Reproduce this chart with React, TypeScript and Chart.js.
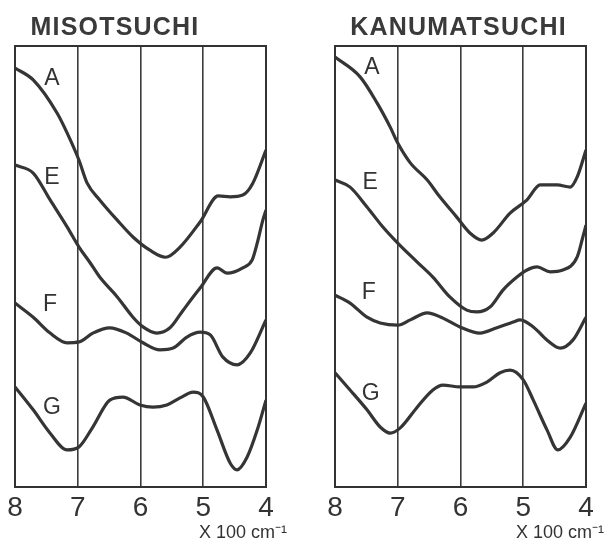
import React, { useEffect, useRef } from "react";
import { Chart, registerables } from "chart.js";

Chart.register(...registerables);

// x: wavenumber (x100 cm-1), y: relative transmittance (arbitrary units)
const tickValues = [8, 7, 6, 5, 4];
const curveNames = ["A", "E", "F", "G"];

const misoA = [[8.0, 95.0], [7.71, 92.3], [7.33, 84.8], [7.17, 80.3], [6.98, 74.1], [6.85, 68.9], [6.65, 65.1], [6.37, 60.5], [6.12, 56.7], [5.85, 53.7], [5.6, 52.1], [5.37, 54.4], [5.05, 60.1], [4.76, 66.0], [4.57, 65.8], [4.37, 66.2], [4.21, 68.9], [4.0, 76.4]];
const misoE = [[8.0, 73.0], [7.71, 71.2], [7.44, 65.1], [7.17, 59.0], [6.98, 54.4], [6.8, 50.8], [6.65, 47.6], [6.37, 43.1], [6.12, 38.5], [5.96, 36.3], [5.74, 34.9], [5.53, 36.1], [5.32, 40.1], [5.05, 45.1], [4.78, 49.7], [4.62, 48.5], [4.37, 49.7], [4.22, 51.5], [4.14, 55.3], [4.05, 60.5], [4.0, 62.8]];
const misoF = [[8.0, 41.7], [7.71, 38.5], [7.44, 34.9], [7.17, 32.7], [6.98, 32.9], [6.76, 34.9], [6.49, 36.1], [6.22, 34.9], [5.96, 32.7], [5.69, 31.1], [5.48, 31.5], [5.26, 34.0], [5.05, 35.1], [4.89, 34.5], [4.69, 29.5], [4.46, 27.7], [4.25, 30.4], [4.0, 37.9]];
const misoG = [[8.0, 22.7], [7.71, 17.5], [7.44, 12.2], [7.17, 8.4], [6.98, 9.1], [6.76, 13.6], [6.49, 19.7], [6.28, 20.4], [6.01, 18.6], [5.8, 18.1], [5.58, 18.6], [5.37, 20.2], [5.16, 21.5], [5.0, 20.4], [4.78, 12.9], [4.57, 5.4], [4.46, 3.9], [4.3, 6.8], [4.14, 12.9], [4.0, 19.7]];

const kanuA = [[8.0, 97.5], [7.6, 93.0], [7.33, 87.1], [7.12, 81.6], [7.0, 78.0], [6.8, 73.5], [6.53, 69.6], [6.33, 65.8], [6.06, 61.2], [5.85, 57.6], [5.66, 56.0], [5.48, 57.6], [5.21, 62.1], [4.94, 65.1], [4.73, 68.5], [4.46, 68.5], [4.25, 68.0], [4.14, 70.3], [4.0, 76.4]];
const kanuE = [[8.0, 69.6], [7.76, 68.0], [7.49, 63.5], [7.24, 59.0], [7.0, 55.3], [6.69, 51.0], [6.44, 47.6], [6.17, 43.1], [5.9, 40.1], [5.74, 39.7], [5.53, 40.8], [5.32, 44.7], [5.1, 47.6], [4.94, 49.2], [4.78, 49.9], [4.57, 48.8], [4.37, 49.2], [4.14, 52.2], [4.05, 56.7], [4.0, 59.4]];
const kanuF = [[8.0, 43.5], [7.76, 41.7], [7.49, 38.5], [7.28, 37.2], [7.0, 36.7], [6.8, 37.9], [6.53, 39.5], [6.28, 38.3], [6.01, 36.3], [5.69, 34.9], [5.42, 36.1], [5.16, 37.4], [5.05, 37.9], [4.84, 36.3], [4.62, 33.3], [4.41, 31.5], [4.21, 33.3], [4.0, 38.5]];
const kanuG = [[8.0, 25.9], [7.76, 22.0], [7.49, 17.5], [7.28, 13.6], [7.12, 12.2], [6.96, 13.4], [6.69, 18.1], [6.44, 22.0], [6.28, 23.1], [6.01, 22.7], [5.8, 22.7], [5.58, 23.8], [5.37, 25.9], [5.21, 26.5], [5.0, 24.3], [4.84, 19.7], [4.62, 12.9], [4.45, 8.4], [4.25, 11.3], [4.0, 19.0]];

// curve letter anchors (data coordinates)
const misoMarks = [[7.41, 92.7], [7.41, 70.1], [7.44, 41.3], [7.41, 17.9]];
const kanuMarks = [[7.41, 95.2], [7.44, 68.9], [7.46, 44.0], [7.43, 21.1]];

const FONT = "'Liberation Sans', Arial, sans-serif";
const INK = "#333333";

type Pt = number[];

function Panel(props: { left: number; width: number; padLeft: number; padRight: number; curves: Pt[][]; marks: Pt[] }) {
  const ref = useRef<HTMLCanvasElement>(null);
  useEffect(() => {
    const canvas = ref.current!;
    const overlay = {
      id: "overlay",
      afterDatasetsDraw(chart: any) {
        const c = chart.ctx;
        const xs = chart.scales.x;
        const ys = chart.scales.y;
        const a = chart.chartArea;
        c.save();
        c.strokeStyle = INK;
        c.lineWidth = 2;
        c.strokeRect(a.left, a.top, a.right - a.left, a.bottom - a.top);
        c.fillStyle = INK;
        c.font = "23px " + FONT;
        c.textAlign = "center";
        c.textBaseline = "middle";
        props.marks.forEach((m, i) => {
          c.fillText(curveNames[i], xs.getPixelForValue(m[0]), ys.getPixelForValue(m[1]));
        });
        c.restore();
      },
    };
    const chart = new Chart(canvas, {
      type: "line",
      data: {
        datasets: props.curves.map((pts, i) => ({
          label: curveNames[i],
          data: pts.map(([x, y]) => ({ x, y })),
          borderColor: "#353535",
          borderWidth: 3.2,
          pointRadius: 0,
          cubicInterpolationMode: "monotone",
          fill: false,
        })),
      },
      options: {
        animation: false,
        responsive: false,
        maintainAspectRatio: false,
        layout: { padding: { left: props.padLeft, right: props.padRight, top: 46, bottom: 12 } },
        plugins: { legend: { display: false }, tooltip: { enabled: false } },
        scales: {
          x: {
            type: "linear",
            min: 4,
            max: 8,
            reverse: true,
            afterBuildTicks: (s: any) => {
              s.ticks = tickValues.map((v) => ({ value: v }));
            },
            afterFit: (s: any) => {
              s.height = 40;
            },
            grid: { color: "#3c3c3c", lineWidth: 1.6, drawTicks: false },
            border: { display: false },
            ticks: { color: INK, font: { size: 28, family: FONT }, padding: 4, maxRotation: 0, autoSkip: false },
          },
          y: { type: "linear", min: 0, max: 100, display: false },
        },
      },
      plugins: [overlay],
    } as any);
    return () => chart.destroy();
  }, []);
  return (
    <canvas
      ref={ref}
      width={props.width}
      height={539}
      style={{ position: "absolute", left: props.left, top: 0, width: props.width, height: 539 }}
    />
  );
}

const titleStyle: React.CSSProperties = {
  position: "absolute",
  top: 11,
  height: 30,
  lineHeight: "30px",
  fontFamily: FONT,
  fontSize: 25,
  fontWeight: 700,
  letterSpacing: 1.2,
  color: "#3a3a3a",
  textAlign: "center",
  whiteSpace: "nowrap",
};

const unitStyle: React.CSSProperties = {
  position: "absolute",
  top: 522,
  height: 20,
  lineHeight: "20px",
  fontFamily: FONT,
  fontSize: 18,
  color: INK,
  whiteSpace: "nowrap",
};

export default function App() {
  return (
    <div style={{ position: "absolute", left: 0, top: 0, width: 608, height: 539, background: "#fff", overflow: "hidden" }}>
      <Panel left={0} width={300} padLeft={15} padRight={34} curves={[misoA, misoE, misoF, misoG]} marks={misoMarks} />
      <Panel left={320} width={288} padLeft={15} padRight={22} curves={[kanuA, kanuE, kanuF, kanuG]} marks={kanuMarks} />
      <div style={{ ...titleStyle, left: 15, width: 200 }}>MISOTSUCHI</div>
      <div style={{ ...titleStyle, left: 350, width: 217 }}>KANUMATSUCHI</div>
      <div style={{ ...unitStyle, left: 199 }}>X 100 cm⁻¹</div>
      <div style={{ ...unitStyle, left: 516 }}>X 100 cm⁻¹</div>
    </div>
  );
}
